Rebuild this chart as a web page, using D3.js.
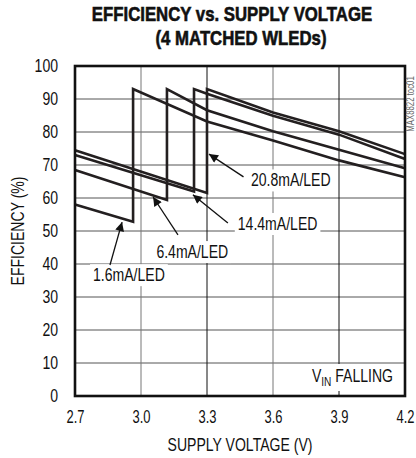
<!DOCTYPE html>
<html>
<head>
<meta charset="utf-8">
<script src="https://cdn.jsdelivr.net/npm/d3@7"></script>
<style>
  body { margin: 0; background: #fff; }
  svg text { font-family: 'Liberation Sans', Arial, sans-serif; fill: #111; }
</style>
</head>
<body>
<div id="chart"></div>
<script>
// efficiency curves, [supply voltage, efficiency %], V_IN falling
const led1p6 = [[2.7, 58], [2.964, 52.8], [2.964, 93], [3.3, 83.2], [3.6, 77.4], [3.9, 71.4], [4.2, 66.3]];
const led6p4 = [[2.7, 68.5], [3.118, 59.4], [3.118, 93], [3.3, 86.6], [3.6, 80.2], [3.9, 74.6], [4.2, 69]];
const led14p4 = [[2.7, 73], [3.241, 62], [3.241, 93], [3.3, 91.6], [3.6, 84.9], [3.9, 79.2], [4.2, 71.8]];
const led20p8 = [[2.7, 74.5], [3.3, 61.5], [3.3, 93], [3.6, 85.9], [3.9, 80.2], [4.2, 73.3]];

const xTicks = [2.7, 3.0, 3.3, 3.6, 3.9, 4.2];
const yTicks = [0, 10, 20, 30, 40, 50, 60, 70, 80, 90, 100];

// label text, label anchor (voltage, %), arrow tail and tip (voltage, %)
const labels = [
    { text: "20.8mA/LED", at: [3.5, 63.5], tail: [3.466, 66.4], tip: [3.309, 73.3] },
    { text: "14.4mA/LED", at: [3.44, 50.3], tail: [3.395, 52.4], tip: [3.236, 61] },
    { text: "6.4mA/LED", at: [3.07, 41.8], tail: [3.168, 48.8], tip: [3.055, 60.3] },
    { text: "1.6mA/LED", at: [2.782, 34.8], tail: [2.859, 39.7], tip: [2.914, 52.7] }
];

const W = 416, H = 458;
const pL = 75, pR = 405, pT = 66, pB = 396;
const K = 0.78; // the original face is a condensed grotesque

// squeeze text horizontally to mimic the condensed face
function condense(sel, k) {
    sel.each(function () {
        const len = this.getComputedTextLength();
        d3.select(this).attr("textLength", len * k).attr("lengthAdjust", "spacingAndGlyphs");
    });
}

const svg = d3.select("#chart").append("svg")
    .attr("width", W)
    .attr("height", H);

const x = d3.scaleLinear().domain([2.7, 4.2]).range([pL, pR]);
const y = d3.scaleLinear().domain([0, 100]).range([pB, pT]);

// title
svg.append("text")
    .attr("transform", "translate(232,21) scale(0.86,1)")
    .attr("text-anchor", "middle")
    .style("font-size", "19.5px").style("font-weight", "bold")
    .style("stroke", "#111").style("stroke-width", 0.6)
    .text("EFFICIENCY vs. SUPPLY VOLTAGE");
svg.append("text")
    .attr("transform", "translate(241,45) scale(0.86,1)")
    .attr("text-anchor", "middle")
    .style("font-size", "19.5px").style("font-weight", "bold")
    .style("stroke", "#111").style("stroke-width", 0.6)
    .text("(4 MATCHED WLEDs)");

// grid
const grid = svg.append("g");
grid.selectAll(".hg")
    .data(yTicks.slice(1, -1))
    .enter().append("line")
    .attr("x1", pL).attr("x2", pR)
    .attr("y1", d => y(d)).attr("y2", d => y(d))
    .attr("stroke", "#555").attr("stroke-width", 1);
grid.selectAll(".vg")
    .data(xTicks.slice(1, -1))
    .enter().append("line")
    .attr("x1", d => x(d)).attr("x2", d => x(d))
    .attr("y1", pT).attr("y2", pB)
    .attr("stroke", (d, i) => i % 2 ? "#111" : "#777").attr("stroke-width", 1);

// axes (labels only, the frame is drawn as a rect)
svg.append("g")
    .attr("transform", `translate(${pL - 4},0)`)
    .call(d3.axisLeft(y).tickValues(yTicks).tickSize(0).tickPadding(13).tickFormat(d3.format("d")))
    .call(g => g.select(".domain").remove())
    .selectAll("text").style("font-size", "18px").attr("fill", "#111")
    .call(condense, K);

svg.append("g")
    .attr("transform", `translate(0,${pB})`)
    .call(d3.axisBottom(x).tickValues(xTicks).tickSize(0).tickPadding(14).tickFormat(d3.format(".1f")))
    .call(g => g.select(".domain").remove())
    .selectAll("text").style("font-size", "18px").attr("fill", "#111")
    .call(condense, 0.72);

svg.append("text")
    .attr("x", (pL + pR) / 2).attr("y", 451)
    .attr("text-anchor", "middle")
    .style("font-size", "18px")
    .text("SUPPLY VOLTAGE (V)")
    .call(condense, K);

svg.append("text")
    .attr("transform", `translate(24,${(pT + pB) / 2}) rotate(-90)`)
    .attr("text-anchor", "middle")
    .style("font-size", "18px")
    .text("EFFICIENCY (%)")
    .call(condense, K);

// curves
const line = d3.line().x(d => x(d[0])).y(d => y(d[1]));
svg.selectAll(".curve")
    .data([led1p6, led6p4, led14p4, led20p8])
    .enter().append("path")
    .attr("d", line)
    .attr("fill", "none")
    .attr("stroke", "#231f20")
    .attr("stroke-width", 2.6)
    .attr("stroke-linejoin", "miter");

// arrow marker
svg.append("defs").append("marker")
    .attr("id", "head")
    .attr("viewBox", "0 0 10 10")
    .attr("refX", 10).attr("refY", 5)
    .attr("markerWidth", 13).attr("markerHeight", 9)
    .attr("markerUnits", "userSpaceOnUse")
    .attr("orient", "auto")
    .append("path").attr("d", "M0,0L10,5L0,10Z").attr("fill", "#111");

// labels with white backing so the grid breaks behind them
labels.forEach(l => {
    const g = svg.append("g");
    const bg = g.append("rect").attr("fill", "#fff");
    const t = g.append("text")
        .attr("x", x(l.at[0])).attr("y", y(l.at[1]))
        .style("font-size", "18px")
        .text(l.text)
        .call(condense, K);
    const b = t.node().getBBox();
    bg.attr("x", b.x - 3).attr("y", b.y - 1).attr("width", b.width + 6).attr("height", b.height + 2);
    svg.append("line")
        .attr("x1", x(l.tail[0])).attr("y1", y(l.tail[1]))
        .attr("x2", x(l.tip[0])).attr("y2", y(l.tip[1]))
        .attr("stroke", "#111").attr("stroke-width", 1.3)
        .attr("marker-end", "url(#head)");
});

// V_IN FALLING note: white patch breaks the 3.9 V grid line
svg.append("rect")
    .attr("fill", "#fff")
    .attr("x", 306).attr("y", y(10) + 1)
    .attr("width", 92).attr("height", pB - y(10) - 6);
const vinText = svg.append("text")
    .attr("transform", "translate(393,382) scale(0.78,1)")
    .attr("text-anchor", "end")
    .style("font-size", "18px");
vinText.append("tspan").text("V");
vinText.append("tspan").attr("dy", 4).style("font-size", "13px").text("IN");
vinText.append("tspan").attr("dy", -4).text(" FALLING");

// frame
svg.append("rect")
    .attr("x", pL).attr("y", pT)
    .attr("width", pR - pL).attr("height", pB - pT)
    .attr("fill", "none")
    .attr("stroke", "#111").attr("stroke-width", 2.6);

// figure id
svg.append("text")
    .attr("transform", `translate(414,104) rotate(-90)`)
    .attr("text-anchor", "middle")
    .style("font-size", "10px")
    .style("fill", "#666")
    .text("MAX8822 toc01")
    .call(condense, K);
</script>
</body>
</html>
